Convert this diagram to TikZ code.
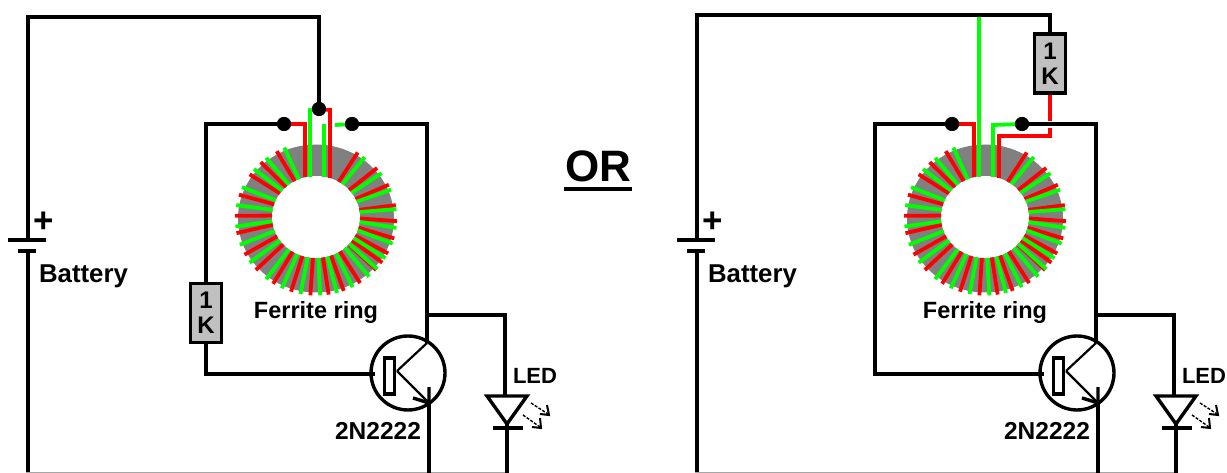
\documentclass[tikz,border=0pt]{standalone}
\usepackage{fontspec}
\setmainfont{Liberation Sans}
\definecolor{wr}{HTML}{FF0000}
\definecolor{wg}{HTML}{00FF00}
\definecolor{fer}{HTML}{808080}
\definecolor{resf}{HTML}{C0C0C0}
\newcommand{\fsz}[1]{\fontsize{#1}{#1}\selectfont\bfseries}
\tikzset{
  wire/.style={line width=3.4pt,black,line join=miter},
  thinw/.style={line width=2.2pt,black},
  redw/.style={line width=3.8pt,wr},
  greenw/.style={line width=3.8pt,wg},
  dotn/.style={circle,fill=black,inner sep=0pt,minimum size=14pt},
  resbox/.style={draw=black,line width=3.4pt,fill=resf,minimum width=31pt,minimum height=59pt,inner sep=0pt,align=center,font=\fsz{24}},
  lab/.style={inner sep=0pt,font=\fsz{#1}},
  lab/.default=24
}
\newcommand{\ringcore}[1]{%
  \fill[fer] (#1,218.5) ellipse [x radius=78,y radius=74];
  \fill[white] (#1,217) ellipse [x radius=44,y radius=41];
  \foreach \a in {-35,-27,-15,-2,10,26,41,59,119,133,145,162,178,191,208,222,238,252,266,279,290,303,318}
    \draw[redw] ({#1+44*cos(\a)},{217-41*sin(\a)}) -- ({#1+81*cos(\a)},{218.5-77*sin(\a)});
  \foreach \a in {-41,-31,-19,-7,7,22,36,53,113,128,140,156,170,186,200,215,232,245,259,273,285,297,311}
    \draw[greenw] ({#1+44*cos(\a)},{217-41*sin(\a)}) -- ({#1+81*cos(\a)},{218.5-77*sin(\a)});
}
\newcommand{\common}[1]{%
  \begin{scope}[xshift=#1pt]
  \coordinate (bn) at (28,251);
  \coordinate (bl) at (8,240); \coordinate (br) at (46,240);
  \coordinate (sl) at (18,251); \coordinate (sr) at (36,251);
  \draw[wire] (bl) -- (br);
  \draw[wire] (sl) -- (sr);
  \draw[wire] (bn) -- (28,473);
  \draw[line width=1pt,black!35] (26,472.6) -- (509,472.6);
  \node[lab=35,anchor=center] (plus) at (44,222) {+};
  \node[lab=25.8,anchor=center] (batt) at (83.5,276) {Battery};
  \node[lab=23.5,anchor=center] (fr) at (316,312) {Ferrite ring};
  \node[lab=24.5,anchor=center] (tname) at (378,431) {2N2222};
  \node[lab=22,anchor=center] (ledl) at (535,376) {LED};
  \coordinate (tc) at (408,373);
  \draw[wire] (tc) circle (37);
  \node[draw=black,line width=3.4pt,fill=white,minimum width=10pt,minimum height=36pt,inner sep=0pt] (base) at (389.5,376) {};
  \coordinate (cj) at (427,343);
  \coordinate (ej) at (429,403);
  \draw[thinw] (397,371) -- (cj);
  \draw[thinw] (397,371) -- (ej);
  \draw[wire] (429,387) -- (ej) -- (413,398);
  \draw[wire] (ej) -- (429,473);
  \draw[wire] (427,315) -- (505,315) -- (505,396);
  \coordinate (la) at (487,396); \coordinate (lb) at (527,396); \coordinate (lc) at (507,424);
  \draw[wire] (la) -- (lb) -- (lc) -- cycle;
  \draw[wire] (493,428) -- (523,428);
  \draw[wire] (507,424) -- (507,473);
  \draw[line width=1.4pt,dash pattern=on 3pt off 1.5pt] (531,403) -- (548,414);
  \draw[line width=2pt] (547,405) -- (549,415) -- (540,414);
  \draw[line width=1.4pt,dash pattern=on 3pt off 1.5pt] (523,415) -- (540,427);
  \draw[line width=2pt] (540,418) -- (541,428) -- (532,427);
  \ringcore{316}
  \end{scope}
}
\begin{document}
\begin{tikzpicture}[x=1pt,y=-1pt]
\useasboundingbox (0,0) rectangle (1227,473);
\fill[white] (0,0) rectangle (1227,473);
\common{0}
\node[dotn] (d1) at (284,124) {};
\node[dotn] (d2) at (352,124) {};
\node[dotn] (d3) at (319,109) {};
\node[resbox] (r1) at (206,313) {1\\[1pt]K};
\coordinate (b1) at (28,240);
\coordinate (t1) at (28,17);
\coordinate (t2) at (319,17);
\draw[wire] (b1) -- (t1) -- (t2) -- (d3);
\draw[wire] (d1) -- (206,124) -- (r1.north);
\draw[wire] (r1.south) -- (206,374) -- (375,374);
\draw[wire] (d2) -- (427,124) -- (427,343);
\draw[redw] (d1) -- (305,124) -- (305,177);
\draw[greenw] (310,177) -- (310,110) -- (d3);
\draw[redw] (d3) -- (330,110) -- (330,178);
\draw[greenw] (324,177) -- (324,124);
\draw[greenw] (335,125) -- (d2);
\node[dotn] at (d1) {};
\node[dotn] at (d2) {};
\node[dotn] at (d3) {};
\node[lab=44,anchor=center] (orl) at (598,166) {OR};
\draw[line width=4pt] (564,189) -- (632,189);
\common{669}
\node[dotn] (e1) at (952,124) {};
\node[dotn] (e2) at (1022,124) {};
\node[resbox] (r2) at (1050,63.5) {1\\[1pt]K};
\coordinate (c1) at (697,240);
\coordinate (c2) at (697,15);
\coordinate (c3) at (1050,15);
\draw[wire] (c1) -- (c2) -- (c3) -- (r2.north);
\draw[wire] (e1) -- (875,124) -- (875,374) -- (1044,374);
\draw[wire] (e2) -- (1096,124) -- (1096,343);
\draw[redw] (r2.south) -- (1050,121);
\draw[redw] (1050,128) -- (1050,136) -- (999,136) -- (999,178);
\draw[greenw] (979,17) -- (979,177);
\draw[redw] (e1) -- (974,124) -- (974,177);
\draw[greenw] (e2) -- (993,125) -- (993,177);
\node[dotn] at (e1) {};
\node[dotn] at (e2) {};
\end{tikzpicture}
\end{document}
